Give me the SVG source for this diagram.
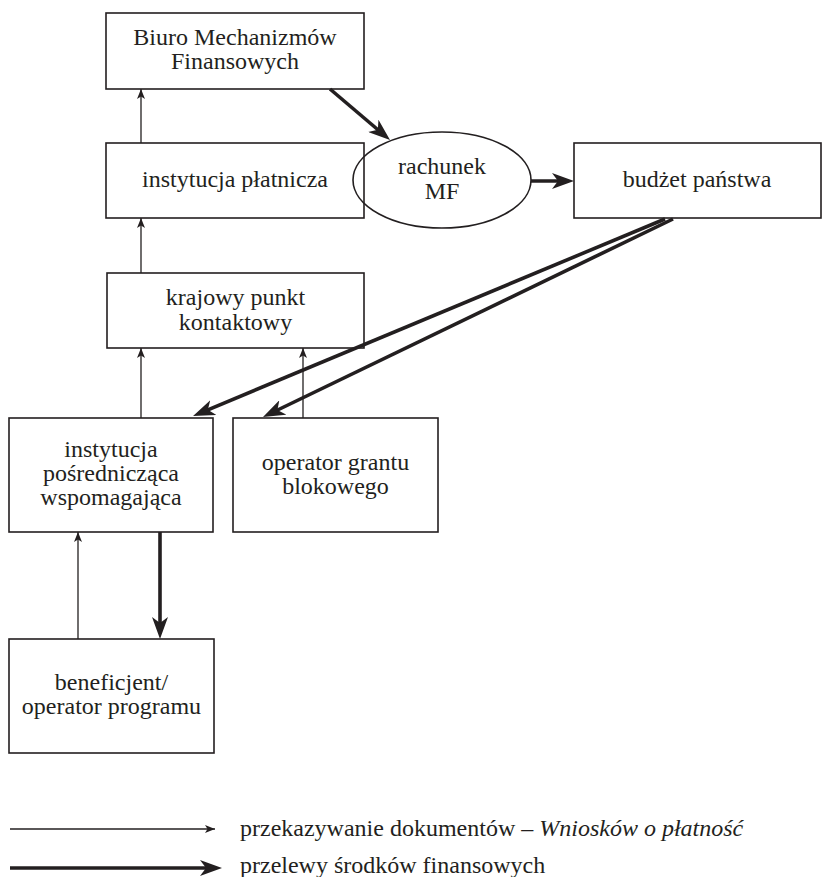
<svg xmlns="http://www.w3.org/2000/svg" width="823" height="877" viewBox="0 0 823 877">
<style>
.box{fill:none;stroke:#231f20;stroke-width:1.6}
.t{font-family:'Liberation Serif','Times New Roman',Tinos,'DejaVu Serif',serif;font-size:24px;fill:#231f20;text-anchor:middle}
.lt{font-family:'Liberation Serif','Times New Roman',Tinos,'DejaVu Serif',serif;font-size:24px;fill:#231f20}
.thin{stroke:#231f20;stroke-width:1.3;fill:none;marker-end:url(#ah)}
.thick{stroke:#231f20;stroke-width:3.6;fill:none;marker-end:url(#AH)}
</style>
<defs>
<marker id="ah" markerUnits="userSpaceOnUse" markerWidth="10" markerHeight="8" viewBox="0 0 10 8" refX="10" refY="4" orient="auto">
<path d="M0,0 L10,4 L0,8 L2.5,4 z" fill="#231f20"/>
</marker>
<marker id="AH" markerUnits="userSpaceOnUse" markerWidth="22" markerHeight="16" viewBox="0 0 22 16" refX="15" refY="8" orient="auto">
<path d="M0,0 L22,8 L0,16 L6,8 z" fill="#231f20"/>
</marker>
</defs>
<rect width="823" height="877" fill="#fff"/>
<g id="n-bmf"><rect class="box" x="106" y="13" width="258" height="76"/><text class="t" x="235" y="45">Biuro Mechanizmów</text><text class="t" x="235" y="69">Finansowych</text></g>
<g id="n-ip"><rect class="box" x="106" y="143" width="258" height="75"/><text class="t" x="235" y="187">instytucja płatnicza</text></g>
<g id="n-mf"><ellipse class="box" cx="442" cy="180" rx="89" ry="48"/><text class="t" x="442" y="174">rachunek</text><text class="t" x="442" y="199">MF</text></g>
<g id="n-bp"><rect class="box" x="574" y="143" width="247" height="75"/><text class="t" x="697" y="187">budżet państwa</text></g>
<g id="n-kpk"><rect class="box" x="107" y="273" width="257" height="75"/><text class="t" x="235.5" y="305">krajowy punkt</text><text class="t" x="235.5" y="330">kontaktowy</text></g>
<g id="n-ipw"><rect class="box" x="9" y="418" width="204" height="114"/><text class="t" x="111" y="457">instytucja</text><text class="t" x="111" y="481">pośrednicząca</text><text class="t" x="111" y="505">wspomagająca</text></g>
<g id="n-ogb"><rect class="box" x="233" y="418" width="205" height="114"/><text class="t" x="335.5" y="470">operator grantu</text><text class="t" x="335.5" y="494">blokowego</text></g>
<g id="n-ben"><rect class="box" x="9" y="639" width="205" height="114"/><text class="t" x="111.5" y="690">beneficjent/</text><text class="t" x="111.5" y="714">operator programu</text></g>
<g id="connectors">
<line class="thin" x1="141" y1="143" x2="141" y2="89"/>
<line class="thin" x1="141" y1="273" x2="141" y2="218"/>
<line class="thin" x1="141" y1="418" x2="141" y2="348"/>
<line class="thin" x1="303" y1="418" x2="303" y2="348"/>
<line class="thin" x1="78" y1="639" x2="78" y2="532"/>
<line class="thick" x1="330" y1="89" x2="384.7" y2="135.5"/>
<line class="thick" x1="531" y1="181" x2="567" y2="181"/>
<line class="thick" x1="665" y1="219" x2="199.5" y2="413.3"/>
<line class="thick" x1="673" y1="219" x2="269.3" y2="414"/>
<line class="thick" x1="160" y1="532" x2="160" y2="632"/>
</g>
<g id="legend">
<line class="thin" x1="10" y1="829" x2="215" y2="829"/>
<text class="lt" x="240" y="836">przekazywanie dokumentów – <tspan font-style="italic">Wniosków o płatność</tspan></text>
<line class="thick" x1="10" y1="868" x2="215" y2="868"/>
<text class="lt" x="240" y="873">przelewy środków finansowych</text>
</g>
</svg>
